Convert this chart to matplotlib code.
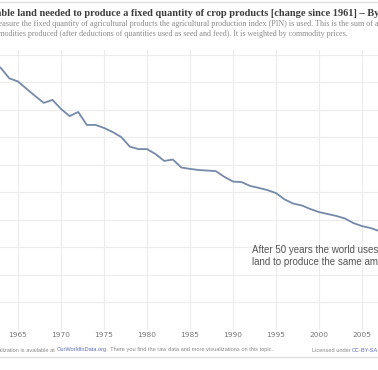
import matplotlib.pyplot as plt
import numpy as np

# data (1961 = 100%)
years = list(range(1961, 2008))
land_needed = [100.0, 97.5, 95.1, 91.3, 90.2, 87.5, 84.9, 82.4, 83.5, 80.2,
               77.6, 79.1, 74.4, 74.4, 73.3, 71.8, 70.0, 66.5, 65.6, 65.6,
               63.8, 61.3, 61.8, 58.9, 58.4, 58.0, 57.8, 57.6, 55.5, 53.8,
               53.6, 52.2, 51.5, 50.7, 49.6, 47.3, 45.8, 45.1, 43.8, 42.7,
               42.0, 41.3, 40.4, 38.7, 37.6, 36.9, 35.8]
tick_years = [1965, 1970, 1975, 1980, 1985, 1990, 1995, 2000, 2005]

title = ("Arable land needed to produce a fixed quantity of crop products "
         "[change since 1961] \u2013 By Max Roser")
sub1 = ("To measure the fixed quantity of agricultural products the agricultural "
        "production index (PIN) is used. This is the sum of agricultural")
sub2 = ("commodities produced (after deductions of quantities used as seed and feed). "
        "It is weighted by commodity prices.")
note = "After 50 years the world uses 68% less\nland to produce the same amount of crops."

W, H = 378, 370
fig = plt.figure(figsize=(W / 100, H / 100), dpi=100)
fig.patch.set_facecolor('white')

# plot area: 1965 at x=18px, 8.6 px per year; 100% at y=54.5px, 0% at y=329.5px
x0 = 1965 - 18 / 8.6
x1 = 1965 + (W - 18) / 8.6
ax = fig.add_axes([0, (H - 329.5) / H, 1, (329.5 - 50) / H])
ax.set_xlim(x0, x1)
ax.set_ylim(0, 100 * (329.5 - 50) / 275)

ax.plot(years, land_needed, color='#7589a8', lw=1.3, solid_joinstyle='round')

ax.set_xticks(tick_years)
ax.set_yticks(np.arange(10, 101, 10))
ax.grid(True, color='#ececec', lw=0.8)
ax.set_axisbelow(True)
ax.tick_params(length=0, labelsize=5.3, labelcolor='#777777', pad=1.5)
ax.set_yticklabels([])
for s in ax.spines.values():
    s.set_visible(False)

ax.text(1992.2, 26.7, note, fontsize=7.0, color='#555555',
        va='center', ha='left', linespacing=1.3, family='Liberation Sans')

# header
fig.text(-16 / W, 1 - 13 / H, title, fontsize=7.45, color='#3c3c3c',
         family='Liberation Serif', fontweight='bold', va='center', ha='left')
fig.text(-18 / W, 1 - 24 / H, sub1, fontsize=5.85, color='#8a8a8a',
         family='Liberation Serif', va='center', ha='left')
fig.text(-15 / W, 1 - 34 / H, sub2, fontsize=5.8, color='#8a8a8a',
         family='Liberation Serif', va='center', ha='left')

# footer, pieces laid out one after another
renderer = fig.canvas.get_renderer()


def line_of_pieces(pieces, x, y, anchor_end=False):
    objs = [fig.text(0, y, s, fontsize=4.1, color=c, family='Liberation Sans',
                     va='center', ha='left') for s, c in pieces]
    widths = [o.get_window_extent(renderer).width for o in objs]
    if anchor_end:
        x = x - sum(widths)
    for o, w in zip(objs, widths):
        o.set_x(x / W)
        x += w


line_of_pieces([("The interactive data visualization is available at ", '#888888'),
                ("OurWorldInData.org", '#5b6bb5'),
                (". There you find the raw data and more visualizations on this topic.",
                 '#888888')], 273, 1 - 350 / H, anchor_end=True)
line_of_pieces([("Licensed under ", '#888888'), ("CC-BY-SA", '#5b6bb5')],
               312, 1 - 350 / H)

fig.add_artist(plt.Line2D([0, 1], [1 - 2 / H, 1 - 2 / H], color='#dddddd', lw=1))
fig.add_artist(plt.Line2D([0, 1], [1 - 357 / H, 1 - 357 / H], color='#dddddd', lw=1))

fig.savefig('out.png', dpi=100)
